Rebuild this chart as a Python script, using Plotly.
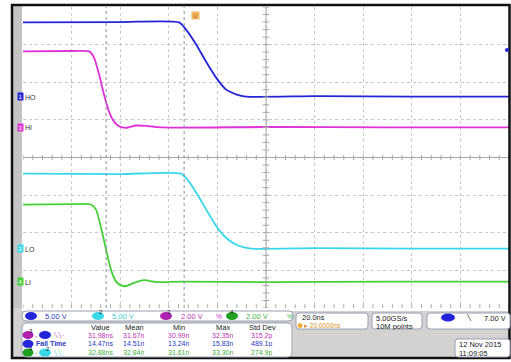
import plotly.graph_objects as go

W, H = 511, 362

# ---------------- data (time in ns, level in screen divisions) ----------------
t_ho = [-100, -60, -35.8, -32.9, -28.8, -24.7, -20.6, -16.5, -12.3, -8.2, 20, 60, 100]
v_ho = [3.59, 3.60, 3.59, 3.40, 3.01, 2.55, 2.13, 1.81, 1.68, 1.62, 1.63, 1.62, 1.62]

t_hi = [-100, -80, -72.8, -70.8, -68.7, -66.7, -64.6, -62.6, -60.5, -57.6, -53.5, -49.4, -43.2, 0, 50, 100]
v_hi = [2.82, 2.83, 2.82, 2.66, 2.21, 1.68, 1.22, 0.96, 0.83, 0.79, 0.85, 0.84, 0.80, 0.81, 0.80, 0.80]

t_lo = [-100, -60, -35.0, -32.1, -28.0, -23.9, -19.8, -15.6, -11.5, -6.2, 20, 60, 100]
v_lo = [-0.43, -0.44, -0.43, -0.61, -1.01, -1.46, -1.89, -2.18, -2.34, -2.42, -2.41, -2.42, -2.42]

t_li = [-100, -80, -72.0, -70.0, -67.9, -65.8, -63.8, -61.7, -59.7, -57.6, -54.3, -50.2, -45.3, -35.0, 0, 50, 100]
v_li = [-1.25, -1.24, -1.25, -1.38, -1.86, -2.45, -2.98, -3.30, -3.40, -3.42, -3.33, -3.26, -3.31, -3.30, -3.31, -3.30, -3.30]

ch_names = ["HO", "HI", "LO", "LI"]
ch_levels = [1.62, 0.80, -2.42, -3.30]
ch_nums = ["1", "3", "2", "4"]
cursor_t = [-65.8, -33.7]

scale_labels = ["5.00 V", "5.00 V", "2.00 V", "2.00 V"]
meas_cols = ["Value", "Mean", "Min", "Max", "Std Dev"]
meas_rows = [
    ["31.98ns", "31.67n", "30.99n", "32.35n", "315.2p"],
    ["14.47ns", "14.51n", "13.24n", "15.83n", "489.1p"],
    ["32.88ns", "32.84n", "31.61n", "33.30n", "274.9p"],
]
timebase = ["20.0ns", "\u25b8 20.0000ns"]
sampling = ["5.00GS/s", "10M points"]
trigger_level = "7.00 V"
date_lines = ["12 Nov 2015", "11:09:05"]

# ---------------- colours ----------------
BLUE = "#2424d8"
MAG = "#e030d8"
CYAN = "#38d8ea"
GREEN = "#44d036"
BLUE_T = "#2838c0"
MAG_T = "#c030b8"
CYAN_T = "#40c8d8"
GREEN_T = "#40b040"
FONT = "Liberation Sans"

def px(x):
    return x / W

def py(y):
    return 1 - y / H

# plot area in pixels
X0, X1, Y0, Y1 = 23, 509, 7, 308

fig = go.Figure()
for t, v, c in [(t_ho, v_ho, BLUE), (t_hi, v_hi, MAG), (t_lo, v_lo, CYAN), (t_li, v_li, GREEN)]:
    fig.add_trace(go.Scatter(x=t, y=v, mode="lines", line=dict(color=c, width=1.8, shape="spline", smoothing=0.6),
                             hoverinfo="skip", showlegend=False))

shapes = []
ann = []

# background panels
shapes.append(dict(type="rect", xref="paper", yref="paper", x0=px(11), x1=px(510), y0=py(359), y1=py(4),
                   fillcolor="#d2d2d2", line=dict(width=0), layer="below"))
shapes.append(dict(type="rect", xref="paper", yref="paper", x0=px(13), x1=px(22), y0=py(308), y1=py(6),
                   fillcolor="#c4c4c4", line=dict(width=0), layer="below"))
shapes.append(dict(type="rect", xref="paper", yref="paper", x0=px(22), x1=px(509), y0=py(311), y1=py(6),
                   fillcolor="white", line=dict(width=0), layer="below"))

# centre cross-hair with ticks
shapes.append(dict(type="line", xref="x", yref="y", x0=0, x1=0, y0=-4, y1=4, line=dict(color="#a8a8a8", width=1)))
shapes.append(dict(type="line", xref="x", yref="y", x0=-100, x1=100, y0=0, y1=0, line=dict(color="#a8a8a8", width=1)))
for i in range(-50, 51):
    tt = i * 4
    shapes.append(dict(type="line", xref="x", yref="y", x0=tt, x1=tt, y0=-0.07, y1=0.07, line=dict(color="#a8a8a8", width=1)))
    shapes.append(dict(type="line", xref="x", yref="y", x0=tt, x1=tt, y0=-4, y1=-3.9, line=dict(color="#a8a8a8", width=1)))
for i in range(-20, 21):
    yy = i * 0.2
    shapes.append(dict(type="line", xref="x", yref="y", x0=-1.4, x1=1.4, y0=yy, y1=yy, line=dict(color="#a8a8a8", width=1)))

# cursors
for ct in cursor_t:
    shapes.append(dict(type="line", xref="x", yref="y", x0=ct, x1=ct, y0=-4, y1=4,
                       line=dict(color="#8c8c9c", width=1, dash="dot")))

# outer black frame
shapes.append(dict(type="rect", xref="paper", yref="paper", x0=px(12), x1=px(509.5), y0=py(358), y1=py(5),
                   line=dict(color="#111", width=2.5), fillcolor="rgba(0,0,0,0)"))

# channel ground markers
ch_cols = [BLUE, MAG, CYAN, GREEN]
for name, lvl, num, c in zip(ch_names, ch_levels, ch_nums, ch_cols):
    ann.append(dict(x=px(16.5), y=lvl, xref="paper", yref="y", text=num, showarrow=False,
                    font=dict(family=FONT, size=6, color="white"), bgcolor=c, borderpad=0, width=5, height=7))
    ann.append(dict(x=px(24), y=lvl, xref="paper", yref="y", text=name, showarrow=False, xanchor="left",
                    font=dict(family=FONT, size=7, color="#333"), height=8, borderpad=0))

# trigger position marker (orange U) and trigger level marker
ann.append(dict(x=px(195), y=py(11), xref="paper", yref="paper", text="U", showarrow=False,
                font=dict(family=FONT, size=6, color="#a05000"), bgcolor="#f4b860", borderpad=0, width=7, height=7))
shapes.append(dict(type="circle", xref="paper", yref="paper", x0=px(505), x1=px(509), y0=py(52), y1=py(48),
                   fillcolor=BLUE, line=dict(width=0)))

def rbox(x0, y0, x1, y1, fill="white", line="#9aa0b0", r=3):
    p = (f"M {px(x0+r)} {py(y0)} L {px(x1-r)} {py(y0)} Q {px(x1)} {py(y0)} {px(x1)} {py(y0+r)} "
         f"L {px(x1)} {py(y1-r)} Q {px(x1)} {py(y1)} {px(x1-r)} {py(y1)} L {px(x0+r)} {py(y1)} "
         f"Q {px(x0)} {py(y1)} {px(x0)} {py(y1-r)} L {px(x0)} {py(y0+r)} Q {px(x0)} {py(y0)} {px(x0+r)} {py(y0)} Z")
    shapes.append(dict(type="path", xref="paper", yref="paper", path=p, fillcolor=fill, line=dict(color=line, width=1)))

def pill(xc, yc, c, num="", w=12, h=8):
    shapes.append(dict(type="circle", xref="paper", yref="paper", x0=px(xc - w/2), x1=px(xc + w/2),
                       y0=py(yc + h/2), y1=py(yc - h/2), fillcolor=c, line=dict(width=0)))
    if num:
        ann.append(dict(x=px(xc), y=py(yc), xref="paper", yref="paper", text=num, showarrow=False,
                        font=dict(family=FONT, size=6, color="#222"), height=6, borderpad=0))

def txt(x, y, s, c="#222", size=8, anchor="left", bold=False):
    if bold:
        s = f"<b>{s}</b>"
    ann.append(dict(x=px(x), y=py(y), xref="paper", yref="paper", text=s, showarrow=False, xanchor=anchor,
                    yanchor="middle", font=dict(family=FONT, size=size, color=c), borderpad=0,
                    height=round(size * 1.05)))

# channel scale strip
rbox(22, 311, 293, 321, r=4)
pill(31, 316, BLUE)
txt(44, 316, scale_labels[0], BLUE_T, 7.5)
pill(98, 316, CYAN, "2")
txt(111, 316, scale_labels[1], CYAN_T, 7.5)
pill(166, 316, "#b020b0", "3")
txt(180, 316, scale_labels[2], MAG_T, 7.5)
txt(215, 316, "%", MAG_T, 6.5)
pill(232, 316, "#20a020", "4")
txt(245, 316, scale_labels[3], GREEN_T, 7.5)
txt(286, 316, "%", GREEN_T, 6.5)

# timebase / sampling / trigger boxes
rbox(296, 313, 368, 329)
txt(301, 317, timebase[0], "#222", 7.5)
pill(300, 325.5, "#f0b040", w=5, h=5)
txt(303, 325.5, timebase[1], "#e09020", 6.5)
rbox(372, 313, 422, 329)
txt(375, 317.5, sampling[0], "#222", 7.5)
txt(375, 325.5, sampling[1], "#222", 7.5)
rbox(427, 313, 510, 329)
pill(448, 317.5, BLUE, w=14, h=8)
txt(465, 317.5, "\u2572", "#222", 6.5)
txt(507, 317.5, trigger_level, "#222", 7.5, anchor="right")
rbox(455, 339, 510, 357)
txt(458, 343.5, date_lines[0], "#222", 7.5)
txt(458, 352.5, date_lines[1], "#222", 7.5)

# measurement table
rbox(22, 323, 292, 357, r=5)
col_x = [100, 134, 179, 223, 262]
for s, xx in zip(meas_cols, col_x):
    txt(xx, 327, s, "#222", 7.5, anchor="center")
row_y = [335, 343.8, 352.6]
row_c = [MAG_T, BLUE_T, GREEN_T]
for vals, yy, c in zip(meas_rows, row_y, row_c):
    for s, xx in zip(vals, col_x):
        txt(xx, yy, s, c, 7, anchor="center")
# row labels
pill(28, row_y[0], "#b020b0", "3", w=11)
txt(33.5, row_y[0], "-", MAG_T, 7)
pill(45, row_y[0], BLUE, w=12)
txt(52, row_y[0], "\u2572\u2572-", MAG_T, 6)
pill(28, row_y[1], BLUE, w=11)
txt(35, row_y[1], "Fall Time", BLUE_T, 7, bold=True)
pill(28, row_y[2], "#20a020", "4", w=11)
txt(33.5, row_y[2], "-", GREEN_T, 7)
pill(45, row_y[2], CYAN, "2", w=12)
txt(52, row_y[2], "\u2572\u2572-", CYAN_T, 6)

fig.update_layout(
    width=W, height=H, margin=dict(l=0, r=0, t=0, b=0),
    paper_bgcolor="white", plot_bgcolor="white",
    xaxis=dict(domain=[px(X0), px(X1)], range=[-100, 100], dtick=20, tick0=0, showgrid=True,
               gridcolor="#c8c8c8", griddash="dot", gridwidth=1, zeroline=False, showticklabels=False, ticks=""),
    yaxis=dict(domain=[py(Y1), py(Y0)], range=[-4, 4], dtick=1, tick0=0, showgrid=True,
               gridcolor="#c8c8c8", griddash="dot", gridwidth=1, zeroline=False, showticklabels=False, ticks=""),
    shapes=shapes, annotations=ann, showlegend=False,
)

fig.write_html("out.html", config={"displayModeBar": False},
               post_script="document.body.style.margin='0';document.body.style.overflow='hidden';")
